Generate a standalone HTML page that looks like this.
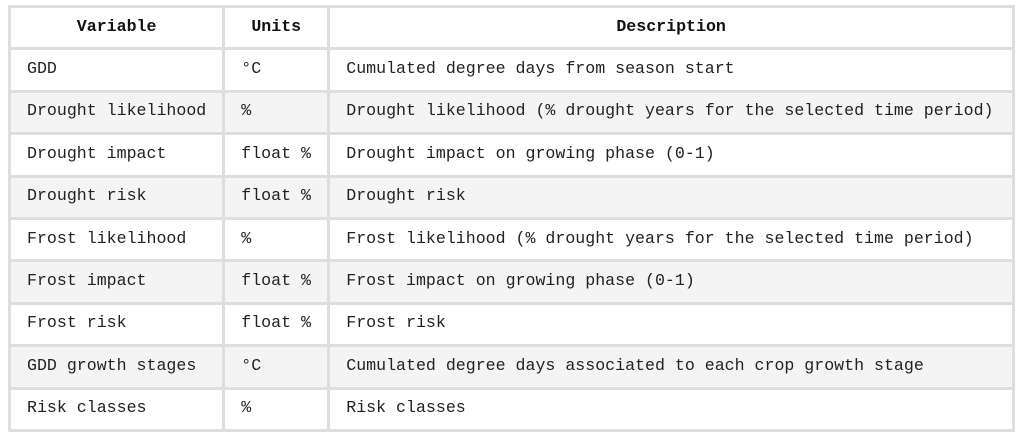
<!DOCTYPE html>
<html><head><meta charset="utf-8"><style>
html,body{margin:0;padding:0;background:#fff;width:1020px;height:438px;overflow:hidden}
table{position:absolute;left:8px;top:5px;width:1007px;border-collapse:collapse;font-family:"Liberation Mono",monospace;font-size:16.6px;color:#222}
tr{height:42.4px}
td,th{border:3px solid #dedede;padding:0 16px 3px 16px;text-align:left;white-space:nowrap;box-sizing:border-box}
th{text-align:center;font-weight:bold;color:#111}
tr.alt td{background:#f4f4f4}
</style></head><body>
<table>
<colgroup><col style="width:213px"><col style="width:105px"><col></colgroup>
<tr><th>Variable</th><th>Units</th><th>Description</th></tr>
<tr><td>GDD</td><td>°C</td><td>Cumulated degree days from season start</td></tr>
<tr class="alt"><td>Drought likelihood</td><td>%</td><td>Drought likelihood (% drought years for the selected time period)</td></tr>
<tr><td>Drought impact</td><td>float %</td><td>Drought impact on growing phase (0-1)</td></tr>
<tr class="alt"><td>Drought risk</td><td>float %</td><td>Drought risk</td></tr>
<tr><td>Frost likelihood</td><td>%</td><td>Frost likelihood (% drought years for the selected time period)</td></tr>
<tr class="alt"><td>Frost impact</td><td>float %</td><td>Frost impact on growing phase (0-1)</td></tr>
<tr><td>Frost risk</td><td>float %</td><td>Frost risk</td></tr>
<tr class="alt"><td>GDD growth stages</td><td>°C</td><td>Cumulated degree days associated to each crop growth stage</td></tr>
<tr><td>Risk classes</td><td>%</td><td>Risk classes</td></tr>
</table>
</body></html>
